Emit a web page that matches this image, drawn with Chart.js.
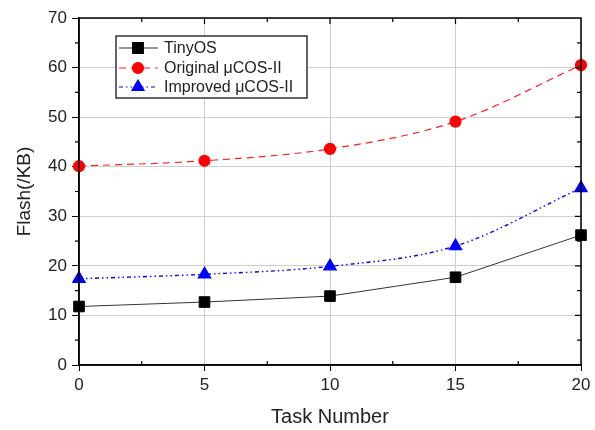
<!DOCTYPE html>
<html>
<head>
<meta charset="utf-8">
<script src="https://cdn.jsdelivr.net/npm/chart.js@4.4.1/dist/chart.umd.min.js"></script>
<style>
  html, body { margin: 0; padding: 0; background: #fff; }
  #wrap { width: 595px; height: 430px; }
</style>
</head>
<body>
<div id="wrap"><canvas id="grafico" width="595" height="430"></canvas></div>
<script>
// dados
const tarefas = [0, 5, 10, 15, 20];
const tinyOS = [11.8, 12.7, 13.9, 17.7, 26.2];
const ucosOriginal = [40.1, 41.2, 43.6, 49.1, 60.5];
const ucosMelhorado = [17.4, 18.3, 19.9, 24.0, 35.7];
const nomesSeries = ['TinyOS', 'Original \u03bcCOS-II', 'Improved \u03bcCOS-II'];

const fonte = '"Liberation Sans", Arial, sans-serif';

function pontos(valores) {
    return tarefas.map((t, i) => ({ x: t, y: valores[i] }));
}

// moldura + ticks internos (topo e direita) + legenda em caixa
const moldura = {
    id: 'moldura',
    afterDraw(chart) {
        const ctx = chart.ctx;
        const a = chart.chartArea;
        const sx = chart.scales.x, sy = chart.scales.y;
        ctx.save();
        ctx.strokeStyle = '#000';
        ctx.lineWidth = 1.5;
        ctx.strokeRect(a.left, a.top, a.right - a.left, a.bottom - a.top);

        ctx.lineWidth = 1.2;
        ctx.beginPath();
        for (let v = 2.5; v < 20; v += 2.5) {
            const px = sx.getPixelForValue(v);
            const len = (v % 5 === 0) ? 6 : 4;
            ctx.moveTo(px, a.top); ctx.lineTo(px, a.top + len);
            if (v % 5 !== 0) { ctx.moveTo(px, a.bottom); ctx.lineTo(px, a.bottom - 4); }
        }
        for (let v = 5; v < 70; v += 5) {
            const py = sy.getPixelForValue(v);
            const len = (v % 10 === 0) ? 6 : 4;
            ctx.moveTo(a.right, py); ctx.lineTo(a.right - len, py);
            if (v % 10 !== 0) { ctx.moveTo(a.left, py); ctx.lineTo(a.left - 4, py); }
        }
        ctx.stroke();

        // legenda
        const bx = 116, by = 36, bw = 191, bh = 62;
        ctx.fillStyle = '#fff';
        ctx.fillRect(bx, by, bw, bh);
        ctx.strokeStyle = '#000';
        ctx.lineWidth = 1.2;
        ctx.strokeRect(bx, by, bw, bh);
        const linhasY = [48, 68, 87];
        chart.data.datasets.forEach((ds, i) => {
            const y = linhasY[i];
            ctx.strokeStyle = ds.borderColor;
            ctx.lineWidth = 1.2;
            ctx.setLineDash(ds.borderDash || []);
            ctx.beginPath();
            ctx.moveTo(119, y); ctx.lineTo(158, y);
            ctx.stroke();
            ctx.setLineDash([]);
            ctx.fillStyle = ds.pointBackgroundColor;
            ctx.strokeStyle = ds.pointBackgroundColor;
            Chart.helpers.drawPoint(ctx, {
                pointStyle: ds.pointStyle,
                radius: ds.pointRadius,
                borderWidth: 1,
                rotation: 0
            }, 138, y);
            ctx.fillStyle = '#222';
            ctx.font = '16px ' + fonte;
            ctx.textBaseline = 'middle';
            ctx.fillText(ds.label, 164, y + 1);
        });
        ctx.restore();
    }
};

const ctxGrafico = document.getElementById('grafico').getContext('2d');
new Chart(ctxGrafico, {
    type: 'line',
    data: {
        datasets: [
            {
                label: nomesSeries[0],
                data: pontos(tinyOS),
                borderColor: '#333',
                borderWidth: 1,
                pointStyle: 'rect',
                pointRadius: 7.5,
                pointBackgroundColor: '#000',
                pointBorderColor: '#000',
                tension: 0
            },
            {
                label: nomesSeries[1],
                data: pontos(ucosOriginal),
                borderColor: '#ff2020',
                borderWidth: 1.2,
                borderDash: [7, 5],
                pointStyle: 'circle',
                pointRadius: 5.5,
                pointBackgroundColor: '#ff0000',
                pointBorderColor: '#ff0000',
                cubicInterpolationMode: 'monotone'
            },
            {
                label: nomesSeries[2],
                data: pontos(ucosMelhorado),
                borderColor: '#0000ff',
                borderWidth: 1.4,
                borderDash: [4, 3, 1.5, 3, 1.5, 3],
                pointStyle: 'triangle',
                pointRadius: 7,
                pointBackgroundColor: '#0000ff',
                pointBorderColor: '#0000ff',
                cubicInterpolationMode: 'monotone'
            }
        ]
    },
    options: {
        responsive: false,
        animation: false,
        clip: false,
        layout: { padding: { left: 11, right: 14, top: 18, bottom: 0 } },
        plugins: {
            legend: { display: false },
            tooltip: { enabled: false }
        },
        scales: {
            x: {
                type: 'linear',
                min: 0, max: 20,
                ticks: { stepSize: 5, color: '#222', padding: 4,
                         font: { family: fonte, size: 17 } },
                grid: { color: '#cfcfcf', tickColor: '#000', tickLength: 6 },
                border: { color: '#000', width: 1.5 },
                title: { display: true, text: 'Task Number', color: '#222', padding: { top: 4, bottom: 1 },
                         font: { family: fonte, size: 20 } },
                afterFit: s => { s.height = 65; }
            },
            y: {
                min: 0, max: 70,
                ticks: { stepSize: 10, color: '#222', padding: 5,
                         font: { family: fonte, size: 17 } },
                grid: { color: '#cfcfcf', tickColor: '#000', tickLength: 7 },
                border: { color: '#000', width: 1.5 },
                title: { display: true, text: 'Flash(/KB)', color: '#222', padding: { top: 2, bottom: 4 },
                         font: { family: fonte, size: 19 } },
                afterFit: s => { s.width = 68; }
            }
        }
    },
    plugins: [moldura]
});
</script>
</body>
</html>
